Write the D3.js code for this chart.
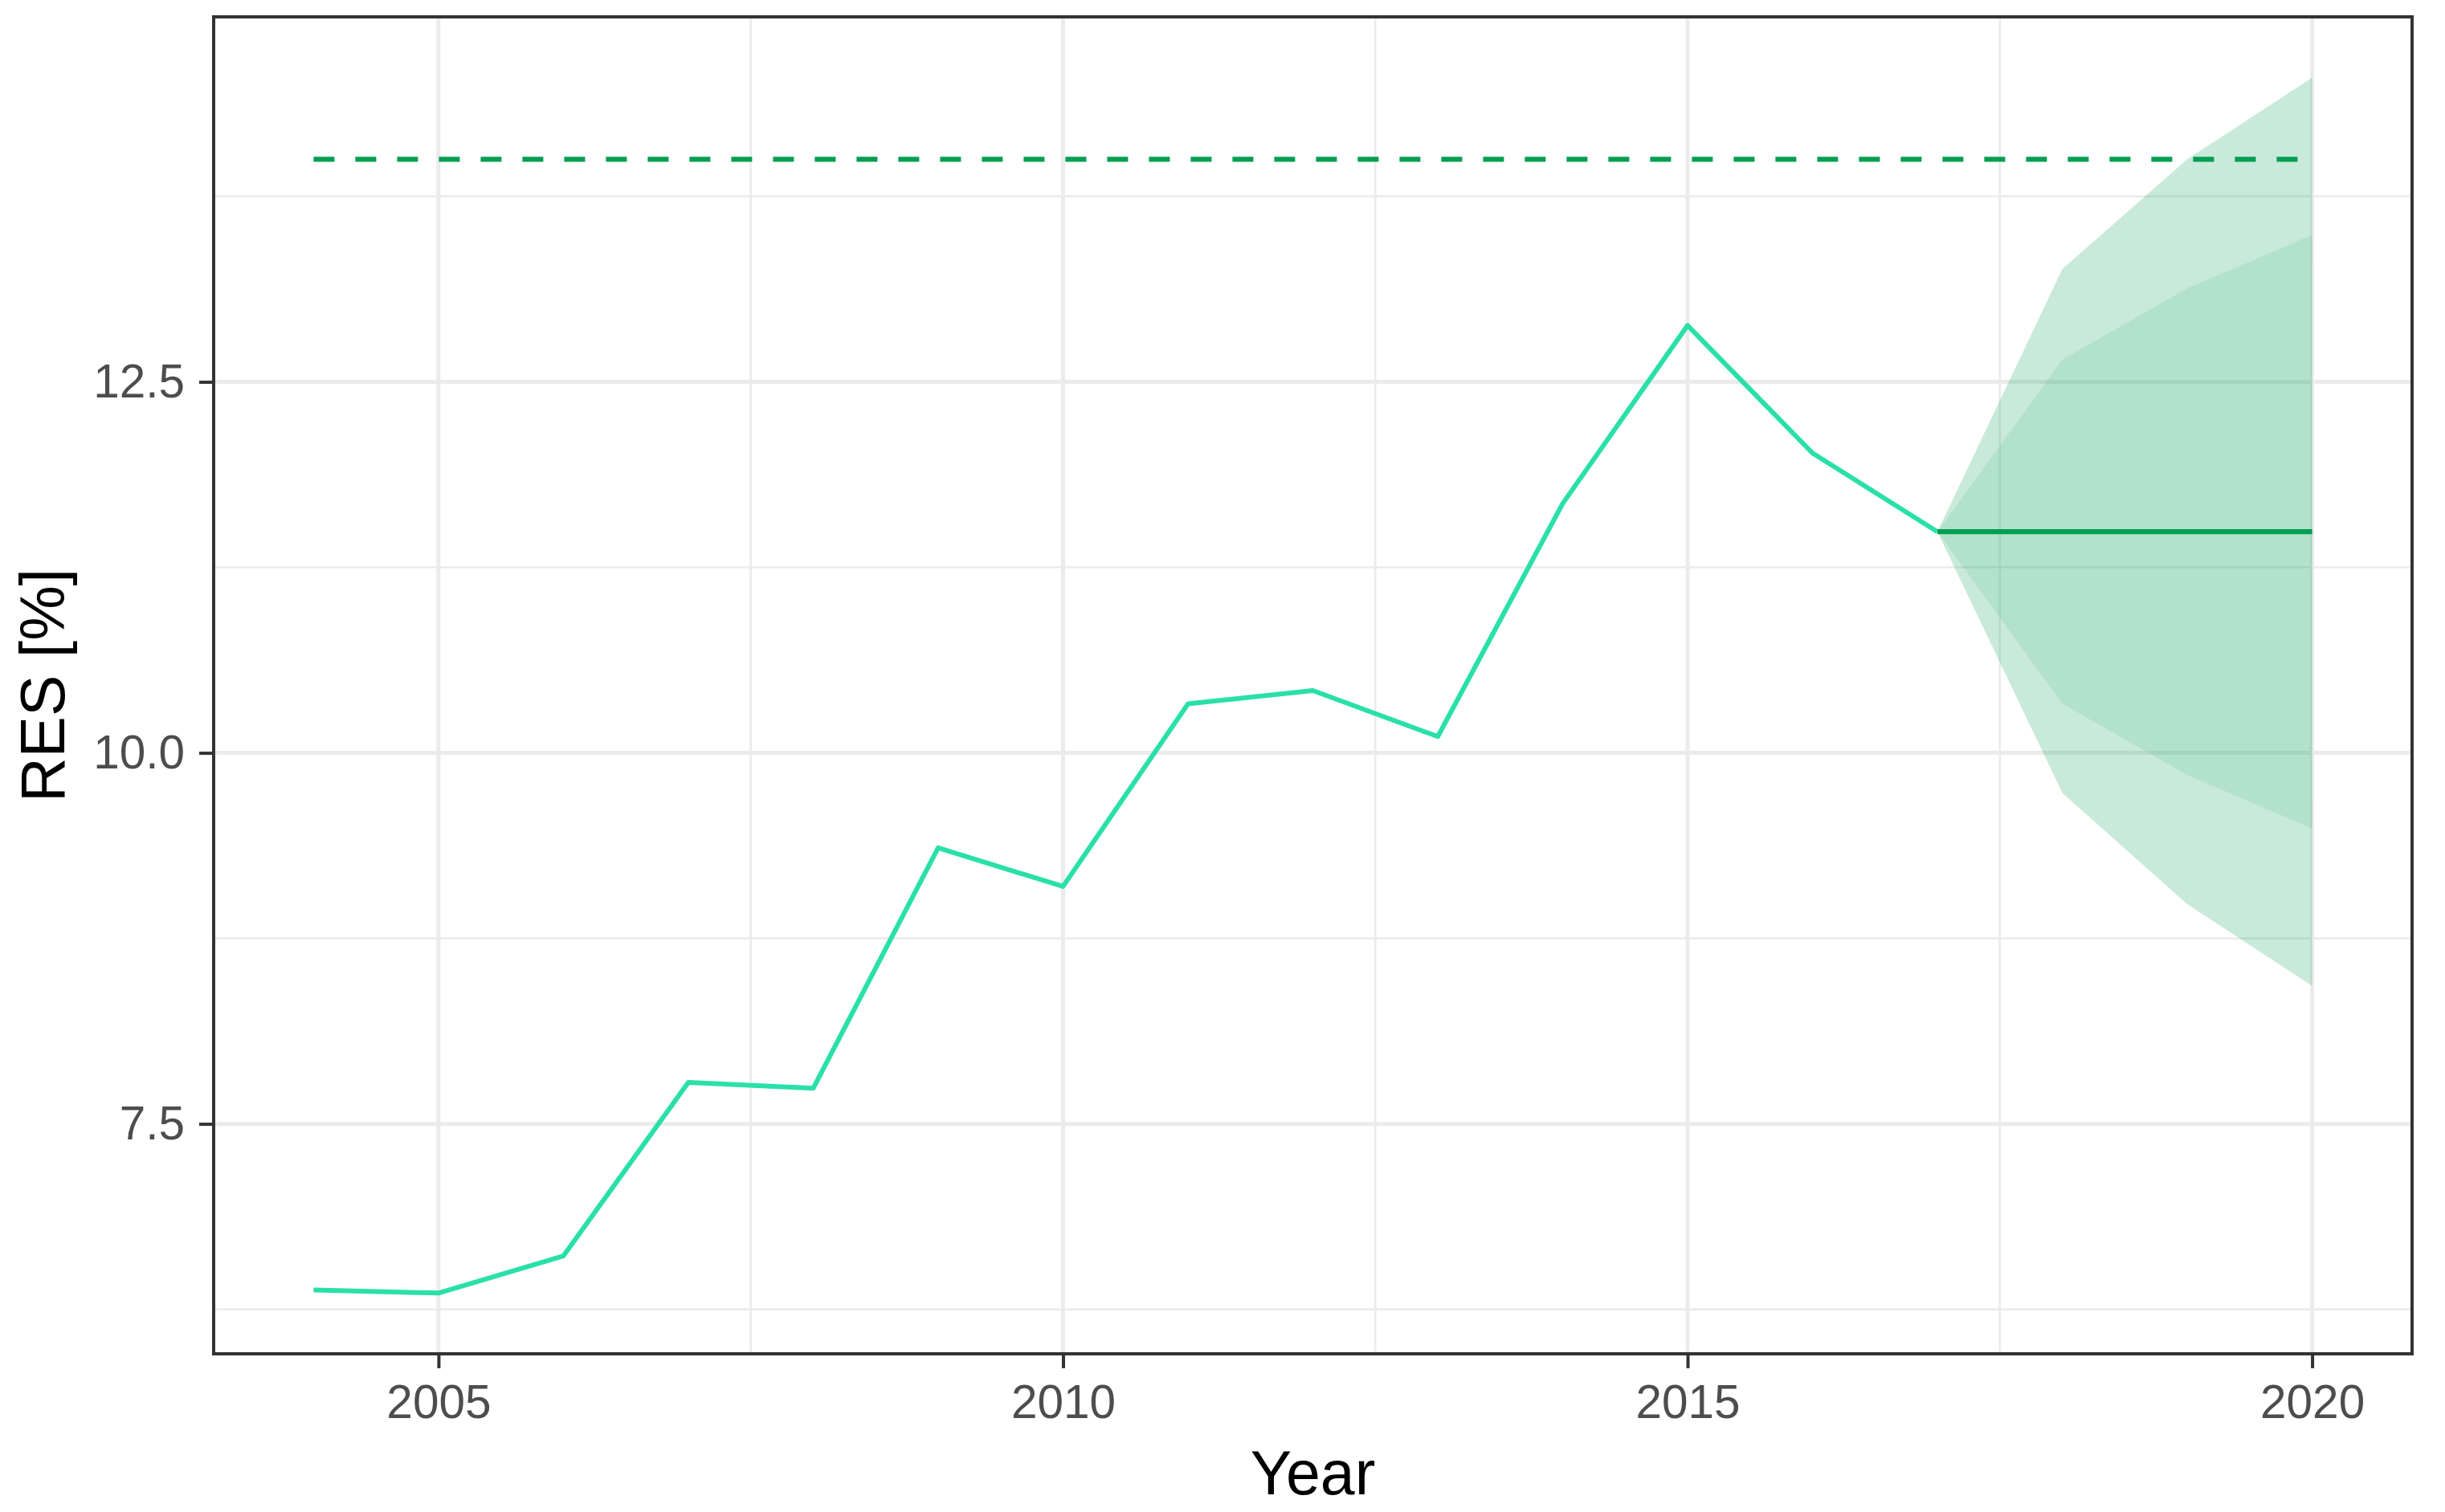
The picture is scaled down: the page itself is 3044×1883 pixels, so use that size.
<!DOCTYPE html>
<html>
<head>
<meta charset="utf-8">
<script src="https://cdn.jsdelivr.net/npm/d3@7"></script>
<style>
  body { margin: 0; background: #fff; }
  svg text { font-family: "Liberation Sans", Arial, sans-serif; }
</style>
</head>
<body>
<script>
// Observed RES share [%]
var years = [2004, 2005, 2006, 2007, 2008, 2009, 2010, 2011, 2012, 2013, 2014, 2015, 2016, 2017];
var resValues = [6.38, 6.36, 6.61, 7.78, 7.74, 9.36, 9.10, 10.33, 10.42, 10.11, 11.68, 12.88, 12.02, 11.49];

// Forecast with 80% and 95% intervals
var fcYears = [2017, 2018, 2019, 2020];
var fcMean = [11.49, 11.49, 11.49, 11.49];
var lo80 = [11.49, 10.33, 9.85, 9.49];
var hi80 = [11.49, 12.65, 13.13, 13.49];
var lo95 = [11.49, 9.73, 8.98, 8.43];
var hi95 = [11.49, 13.26, 14.00, 14.55];

// Target line
var targetYears = [2004, 2020];
var targetValue = 14;

// Ticks
var xTicks = [2005, 2010, 2015, 2020];
var xMinor = [2007.5, 2012.5, 2017.5];
var yTicks = [7.5, 10.0, 12.5];
var yMinor = [6.25, 8.75, 11.25, 13.75];

var W = 3044, H = 1883;
var margin = { top: 21, right: 41, bottom: 197, left: 266 };
var width = W - margin.left - margin.right,
  height = H - margin.top - margin.bottom;

var svg = d3.select("body").append("svg")
  .attr("width", W)
  .attr("height", H);

var g = svg.append("g")
  .attr("transform", `translate(${margin.left},${margin.top})`);

// ggplot-like 5% expansion
var xExt = d3.extent(years.concat(fcYears));
var xPad = (xExt[1] - xExt[0]) * 0.05;
var yAll = resValues.concat(lo95, hi95, [targetValue]);
var yExt = d3.extent(yAll);
var yPad = (yExt[1] - yExt[0]) * 0.05;

var x = d3.scaleLinear().domain([xExt[0] - xPad, xExt[1] + xPad]).range([0, width]);
var y = d3.scaleLinear().domain([yExt[0] - yPad, yExt[1] + yPad]).range([height, 0]);

// grid
var grid = g.append("g");
grid.selectAll(".ym").data(yMinor).enter().append("line")
  .attr("x1", 0).attr("x2", width)
  .attr("y1", d => y(d)).attr("y2", d => y(d))
  .attr("stroke", "#ebebeb").attr("stroke-width", 2.6);
grid.selectAll(".xm").data(xMinor).enter().append("line")
  .attr("y1", 0).attr("y2", height)
  .attr("x1", d => x(d)).attr("x2", d => x(d))
  .attr("stroke", "#ebebeb").attr("stroke-width", 2.6);
grid.selectAll(".yM").data(yTicks).enter().append("line")
  .attr("x1", 0).attr("x2", width)
  .attr("y1", d => y(d)).attr("y2", d => y(d))
  .attr("stroke", "#ebebeb").attr("stroke-width", 5);
grid.selectAll(".xM").data(xTicks).enter().append("line")
  .attr("y1", 0).attr("y2", height)
  .attr("x1", d => x(d)).attr("x2", d => x(d))
  .attr("stroke", "#ebebeb").attr("stroke-width", 5);

// forecast bands
var fc = fcYears.map((yr, i) => ({ yr: yr, m: fcMean[i], l80: lo80[i], h80: hi80[i], l95: lo95[i], h95: hi95[i] }));

g.append("path").datum(fc)
  .attr("d", d3.area().x(d => x(d.yr)).y0(d => y(d.l95)).y1(d => y(d.h95)))
  .attr("fill", "#009e52").attr("fill-opacity", 0.21);
g.append("path").datum(fc)
  .attr("d", d3.area().x(d => x(d.yr)).y0(d => y(d.l80)).y1(d => y(d.h80)))
  .attr("fill", "#009e52").attr("fill-opacity", 0.105);

// observed line
var hist = years.map((yr, i) => ({ yr: yr, v: resValues[i] }));
g.append("path").datum(hist)
  .attr("d", d3.line().x(d => x(d.yr)).y(d => y(d.v)))
  .attr("fill", "none").attr("stroke", "#2ae0a8")
  .attr("stroke-width", 6).attr("stroke-linejoin", "round");

// forecast mean
g.append("path").datum(fc)
  .attr("d", d3.line().x(d => x(d.yr)).y(d => y(d.m)))
  .attr("fill", "none").attr("stroke", "#009e52").attr("stroke-width", 6.2);

// target
g.append("path").datum(targetYears)
  .attr("d", d3.line().x(d => x(d)).y(() => y(targetValue)))
  .attr("fill", "none").attr("stroke", "#009e52").attr("stroke-width", 6.2)
  .attr("stroke-dasharray", "26,26");

// border
g.append("rect").attr("x", 0).attr("y", 0).attr("width", width).attr("height", height)
  .attr("fill", "none").attr("stroke", "#333333").attr("stroke-width", 4);

// axes
var xAxis = g.append("g").attr("transform", `translate(0,${height})`)
  .call(d3.axisBottom(x).tickValues(xTicks).tickFormat(d3.format("d")).tickSize(18).tickPadding(20));
var yAxis = g.append("g")
  .call(d3.axisLeft(y).tickValues(yTicks).tickFormat(d3.format(".1f")).tickSize(18).tickPadding(18));

[xAxis, yAxis].forEach(function (a) {
  a.select(".domain").remove();
  a.selectAll(".tick line").attr("stroke", "#333333").attr("stroke-width", 4);
  a.selectAll(".tick text").attr("fill", "#4d4d4d").style("font-size", "58.5px")
    .style("font-family", '"Liberation Sans", Arial, sans-serif');
});

// titles
svg.append("text")
  .attr("x", margin.left + width / 2).attr("y", 1861)
  .attr("text-anchor", "middle").style("font-size", "77px").attr("fill", "#000")
  .text("Year");
svg.append("text")
  .attr("transform", `translate(80,${margin.top + height / 2}) rotate(-90)`)
  .attr("text-anchor", "middle").style("font-size", "77px").attr("fill", "#000")
  .text("RES [%]");
</script>
</body>
</html>
